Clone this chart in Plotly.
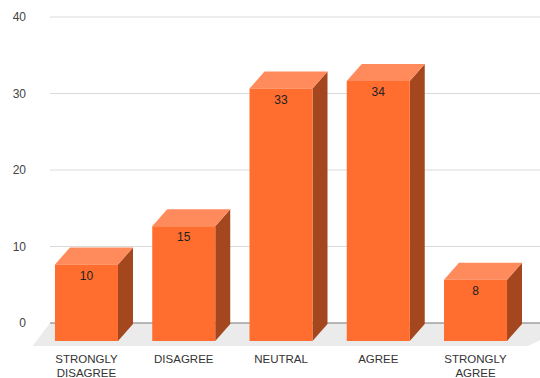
import plotly.graph_objects as go

# ---- data ----
categories = ["STRONGLY<br>DISAGREE", "DISAGREE", "NEUTRAL", "AGREE", "STRONGLY<br>AGREE"]
values = [10, 15, 33, 34, 8]
y_ticks = [0, 10, 20, 30, 40]

# ---- styling / geometry constants ----
FRONT = "#FF6D2F"
TOP = "#FF8A5B"
SIDE = "#A4471F"
FLOOR = "#EBEBEB"
GRID = "#DADADA"
ZERO = "#777777"
FONT = "Arial, Liberation Sans, sans-serif"

half_w = 0.324      # half bar width (category units)
dx = 0.154          # depth offset x
dy = 2.22           # depth offset y (value units)
base = -2.35        # front plane baseline
floor_front = -3.0
xmin, xmax = -0.6118, 4.663
ymin, ymax = -3.007, 42.222

fig = go.Figure()

# floor
n = len(categories)
fl_back_l = -0.375
fl_front_l = -0.555
fl_front_r = n - 1 + 0.54
fig.add_trace(go.Scatter(
    x=[fl_front_l, fl_back_l, fl_front_r + 0.206 + 0.5, fl_front_r + 0.5, fl_front_r, fl_front_l],
    y=[floor_front, 0, 0, 0, floor_front, floor_front],
    fill="toself", fillcolor=FLOOR, line=dict(width=0), mode="lines",
    hoverinfo="skip", showlegend=False))

# zero line
fig.add_trace(go.Scatter(x=[fl_back_l, xmax + 1], y=[0, 0], mode="lines",
                         line=dict(color=ZERO, width=1.2), hoverinfo="skip", showlegend=False))

for i, v in enumerate(values):
    xl, xr = i - half_w, i + half_w
    top = v + base
    # side face
    fig.add_trace(go.Scatter(
        x=[xr, xr + dx, xr + dx, xr, xr],
        y=[base, base + dy, top + dy, top, base],
        fill="toself", fillcolor=SIDE, line=dict(width=0), mode="lines",
        hoverinfo="skip", showlegend=False))
    # top face
    fig.add_trace(go.Scatter(
        x=[xl, xl + dx, xr + dx, xr, xl],
        y=[top, top + dy, top + dy, top, top],
        fill="toself", fillcolor=TOP, line=dict(width=0), mode="lines",
        hoverinfo="skip", showlegend=False))
    # front face
    fig.add_trace(go.Scatter(
        x=[xl, xl, xr, xr, xl],
        y=[base, top, top, base, base],
        fill="toself", fillcolor=FRONT, line=dict(width=0), mode="lines",
        hoverinfo="skip", showlegend=False))

# data labels
fig.add_trace(go.Scatter(
    x=list(range(n)), y=[v + base - 1.6 for v in values],
    mode="text", text=[str(v) for v in values],
    textfont=dict(family=FONT, size=12, color="#222222"),
    hoverinfo="skip", showlegend=False))

# gridlines (not at zero)
shapes = []
for t in y_ticks:
    if t == 0:
        continue
    shapes.append(dict(type="line", xref="x", yref="y", x0=fl_back_l, x1=xmax + 1,
                       y0=t, y1=t, line=dict(color=GRID, width=1), layer="below"))

fig.update_layout(
    width=540, height=378,
    margin=dict(l=27, r=0, t=0, b=32),
    paper_bgcolor="white", plot_bgcolor="white",
    shapes=shapes,
    font=dict(family=FONT, size=12, color="#333333"),
    xaxis=dict(range=[xmin, xmax], tickvals=list(range(n)), ticktext=categories,
               showgrid=False, zeroline=False, showline=False, ticks="",
               automargin=False, ticklabelstandoff=4,
               tickfont=dict(size=11.5, color="#333333"), fixedrange=True),
    yaxis=dict(range=[ymin, ymax], tickvals=y_ticks, showgrid=False, zeroline=False,
               showline=False, ticks="", automargin=False,
               tickfont=dict(size=12, color="#444444"), fixedrange=True),
)

fig.write_html("out.html")
